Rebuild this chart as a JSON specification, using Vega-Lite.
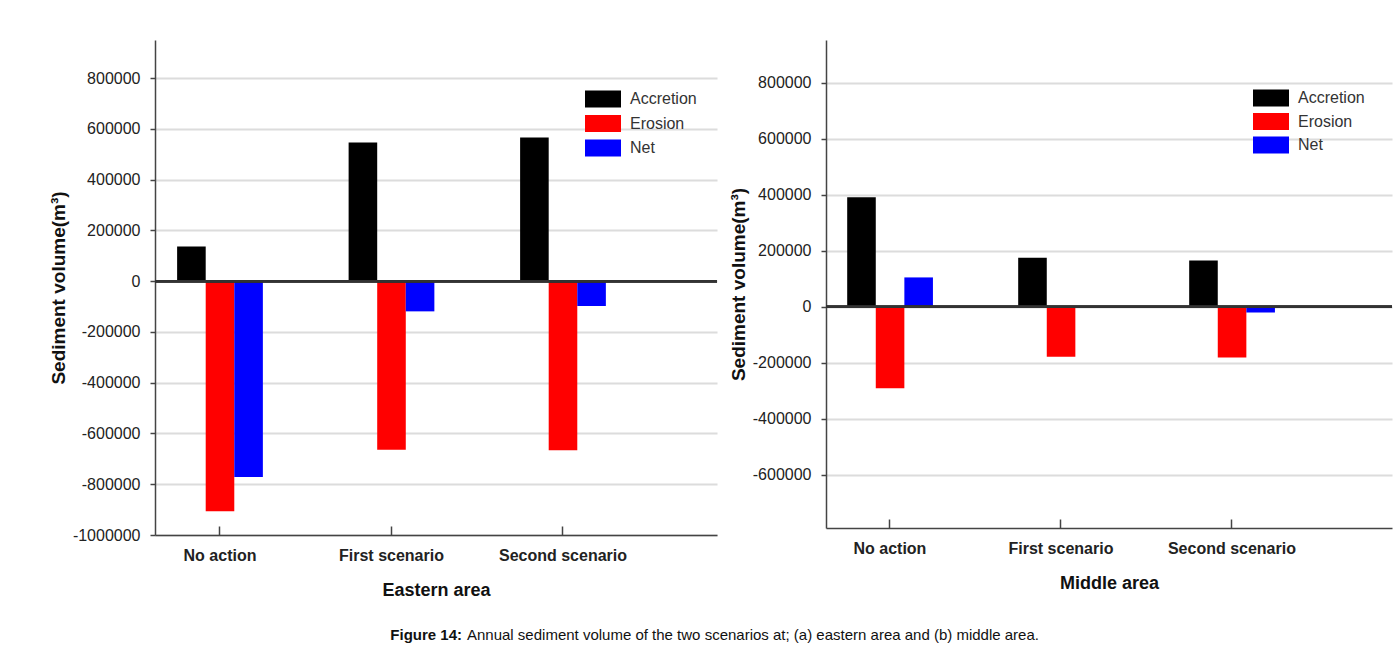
{
  "$schema": "https://vega.github.io/schema/vega-lite/v6.json",
  "padding": {"left": 49, "top": 40, "right": 5, "bottom": 0},
  "background": "white",
  "datasets": {
    "eastern": [
      {"scenario": "No action", "type": "Accretion", "value": 137000},
      {"scenario": "No action", "type": "Erosion", "value": -906000},
      {"scenario": "No action", "type": "Net", "value": -772000},
      {"scenario": "First scenario", "type": "Accretion", "value": 546000},
      {"scenario": "First scenario", "type": "Erosion", "value": -664000},
      {"scenario": "First scenario", "type": "Net", "value": -119000},
      {"scenario": "Second scenario", "type": "Accretion", "value": 566000},
      {"scenario": "Second scenario", "type": "Erosion", "value": -666000},
      {"scenario": "Second scenario", "type": "Net", "value": -98000}
    ],
    "middle": [
      {"scenario": "No action", "type": "Accretion", "value": 391000},
      {"scenario": "No action", "type": "Erosion", "value": -291000},
      {"scenario": "No action", "type": "Net", "value": 105000},
      {"scenario": "First scenario", "type": "Accretion", "value": 175000},
      {"scenario": "First scenario", "type": "Erosion", "value": -178000},
      {"scenario": "First scenario", "type": "Net", "value": 0},
      {"scenario": "Second scenario", "type": "Accretion", "value": 165000},
      {"scenario": "Second scenario", "type": "Erosion", "value": -181000},
      {"scenario": "Second scenario", "type": "Net", "value": -20000}
    ]
  },
  "config": {
    "font": "Liberation Sans",
    "view": {"stroke": null},
    "axis": {
      "labelFont": "Liberation Sans",
      "titleFont": "Liberation Sans",
      "labelColor": "#222",
      "titleColor": "#111",
      "domainColor": "#444",
      "tickColor": "#444",
      "domainWidth": 1.5,
      "tickWidth": 1.5
    },
    "axisY": {
      "grid": true,
      "gridColor": "#dcdcdc",
      "gridWidth": 2,
      "labelFontSize": 16,
      "tickSize": 5,
      "labelPadding": 10,
      "titleFontSize": 19,
      "titleFontWeight": "bold",
      "titlePadding": 4,
      "labelExpr": "replace(datum.label, '\u2212', '-')"
    },
    "axisX": {
      "grid": false,
      "labelAngle": 0,
      "labelFontSize": 16,
      "labelFontWeight": "bold",
      "tickSize": -9,
      "labelPadding": 21,
      "titleFontSize": 18,
      "titleFontWeight": "bold",
      "titlePadding": 18
    },
    "legend": {
      "title": null,
      "padding": 0,
      "labelFont": "Liberation Sans",
      "labelFontSize": 16,
      "labelColor": "#333",
      "symbolType": "M-2,-0.95H2V0.95H-2Z",
      "symbolSize": 324,
      "symbolStrokeWidth": 0,
      "labelOffset": 18
    }
  },
  "vconcat": [
    {
      "spacing": 11,
      "resolve": {"scale": {"color": "independent"}, "legend": {"color": "independent"}},
      "hconcat": [
        {
          "width": 562,
          "height": 495,
          "data": {"name": "eastern"},
          "layer": [
            {
              "mark": {"type": "bar"},
              "encoding": {
                "x": {
                  "field": "scenario",
                  "type": "nominal",
                  "sort": ["No action", "First scenario", "Second scenario"],
                  "scale": {"paddingInner": 0.5, "paddingOuter": 0.3885, "align": 0.166},
                  "axis": {"title": "Eastern area"}
                },
                "xOffset": {
                  "field": "type",
                  "type": "nominal",
                  "sort": ["Accretion", "Erosion", "Net"],
                  "scale": {"paddingInner": 0, "paddingOuter": 0}
                },
                "y": {
                  "field": "value",
                  "type": "quantitative",
                  "scale": {"domain": [-1000000, 950000], "nice": false, "zero": false},
                  "axis": {
                    "title": "Sediment volume(m³)",
                    "format": "d",
                    "values": [-1000000, -800000, -600000, -400000, -200000, 0, 200000, 400000, 600000, 800000]
                  }
                },
                "color": {
                  "field": "type",
                  "type": "nominal",
                  "scale": {"domain": ["Accretion", "Erosion", "Net"], "range": ["#000000", "#ff0000", "#0000ff"]},
                  "legend": {"orient": "none", "legendX": 439, "legendY": 50, "rowPadding": 6.5}
                }
              }
            },
            {
              "mark": {"type": "rule", "color": "#333", "strokeWidth": 2},
              "encoding": {"y": {"datum": 0}}
            }
          ]
        },
        {
          "width": 566,
          "height": 488,
          "data": {"name": "middle"},
          "layer": [
            {
              "mark": {"type": "bar"},
              "encoding": {
                "x": {
                  "field": "scenario",
                  "type": "nominal",
                  "sort": ["No action", "First scenario", "Second scenario"],
                  "scale": {"paddingInner": 0.5, "paddingOuter": 0.405, "align": 0.153},
                  "axis": {"title": "Middle area"}
                },
                "xOffset": {
                  "field": "type",
                  "type": "nominal",
                  "sort": ["Accretion", "Erosion", "Net"],
                  "scale": {"paddingInner": 0, "paddingOuter": 0}
                },
                "y": {
                  "field": "value",
                  "type": "quantitative",
                  "scale": {"domain": [-790000, 953000], "nice": false, "zero": false},
                  "axis": {
                    "title": "Sediment volume(m³)",
                    "format": "d",
                    "values": [-600000, -400000, -200000, 0, 200000, 400000, 600000, 800000]
                  }
                },
                "color": {
                  "field": "type",
                  "type": "nominal",
                  "scale": {"domain": ["Accretion", "Erosion", "Net"], "range": ["#000000", "#ff0000", "#0000ff"]},
                  "legend": {"orient": "none", "legendX": 436, "legendY": 49, "rowPadding": 5.5}
                }
              }
            },
            {
              "mark": {"type": "rule", "color": "#333", "strokeWidth": 2},
              "encoding": {"y": {"datum": 0}}
            }
          ]
        }
      ]
    },
    {
      "width": 616,
      "height": 20,
      "data": {"values": [{"a": "Figure 14:", "b": "Annual sediment volume of the two scenarios at; (a) eastern area and (b) middle area."}]},
      "layer": [
        {
          "mark": {"type": "text", "align": "right", "baseline": "middle", "dx": -1, "fontWeight": "bold", "fontSize": 15, "font": "Liberation Sans", "color": "#111"},
          "encoding": {"text": {"field": "a", "type": "nominal"}}
        },
        {
          "mark": {"type": "text", "align": "left", "baseline": "middle", "dx": 4, "fontSize": 15, "font": "Liberation Sans", "color": "#111"},
          "encoding": {"text": {"field": "b", "type": "nominal"}}
        }
      ]
    }
  ],
  "spacing": 26
}
